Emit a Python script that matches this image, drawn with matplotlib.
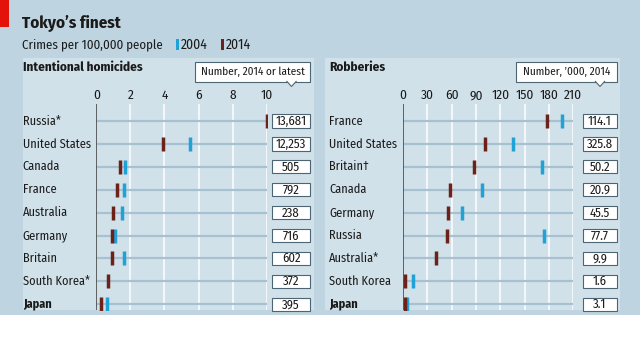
import numpy as np
import matplotlib
matplotlib.use("Agg")
import matplotlib.pyplot as plt
from matplotlib import font_manager
from matplotlib.patches import Rectangle, Polygon

# ---------------- data ----------------
hom_countries = ["Russia*", "United States", "Canada", "France", "Australia",
                 "Germany", "Britain", "South Korea*", "Japan"]
hom_2004 = [np.nan, 5.5, 1.7, 1.6, 1.5, 1.1, 1.6, np.nan, 0.6]
hom_2014 = [10.0, 3.9, 1.4, 1.2, 1.0, 0.9, 0.9, 0.7, 0.3]
hom_numbers = ["13,681", "12,253", "505", "792", "238", "716", "602", "372", "395"]
hom_ticks = [0, 2, 4, 6, 8, 10]

rob_countries = ["France", "United States", "Britain\u2020", "Canada", "Germany",
                 "Russia", "Australia*", "South Korea", "Japan"]
rob_2004 = [196, 136, 171, 97, 73, 174, np.nan, 12, 5]
rob_2014 = [178, 101, 87, 58, 56, 54, 41, 3, 2]
rob_numbers = ["114.1", "325.8", "50.2", "20.9", "45.5", "77.7", "9.9", "1.6", "3.1"]
rob_ticks = [0, 30, 60, 90, 120, 150, 180, 210]

# ---------------- style ----------------
names = {f.name for f in font_manager.fontManager.ttflist}
fams = []
for cand in ["Fira Sans Condensed", "Liberation Sans Narrow"]:
    if cand in names:
        fams.append(cand)
        break
fams.append("DejaVu Sans")
plt.rcParams["font.family"] = fams
plt.rcParams["font.stretch"] = "condensed"

W, H = 640, 356
OUTER = "#bfd4e1"
PANEL = "#d1e1ea"
ROWLINE = "#a6c1d0"
BLUE = "#1fa2d6"
BROWN = "#6d2219"
TXT = "#1a1a1a"
EDGE = "#4d6473"

fig = plt.figure(figsize=(W / 100, H / 100), dpi=100)
fig.patch.set_facecolor("white")
renderer = fig.canvas.get_renderer()


def fit_size(text, target_w, weight="normal"):
    t = fig.text(0, 0, text, fontsize=10, fontweight=weight)
    w = t.get_window_extent(renderer=renderer).width
    t.remove()
    return 10 * target_w / w


def F(x, y):
    return (x / W, 1 - y / H)


def frect(x0, y0, x1, y1, **kw):
    fig.add_artist(Rectangle(F(x0, y1), (x1 - x0) / W, (y1 - y0) / H,
                             transform=fig.transFigure, **kw))


S_TITLE = fit_size("Tokyo\u2019s finest", 99, "bold")
S_SUB = fit_size("Crimes per 100,000 people", 141)
S_LEG = fit_size("2004", 27)
S_PANEL = fit_size("Intentional homicides", 120, "bold")
S_LABEL = fit_size("United States", 68)
S_TICK = fit_size("210", 18)
S_BOX = fit_size("13,681", 31)
S_CALL = fit_size("Number, 2014 or latest", 104)

# outer band and panels
frect(0, 0, 640, 315, facecolor=OUTER, edgecolor="none", zorder=-10)
frect(0, 0, 9, 27, facecolor="#e3120b", edgecolor="none", zorder=-9)
frect(22.7, 58, 314, 310, facecolor=PANEL, edgecolor="none", zorder=-8)
frect(325, 58, 620, 310, facecolor=PANEL, edgecolor="none", zorder=-8)

# titles
fig.text(*F(22.5, 23), "Tokyo\u2019s finest", fontsize=S_TITLE, fontweight="bold",
         color=TXT, va="center", ha="left")
fig.text(*F(22.5, 44.5), "Crimes per 100,000 people", fontsize=S_SUB, color=TXT,
         va="center", ha="left")
frect(175.5, 39, 178.5, 50, facecolor=BLUE, edgecolor="none")
fig.text(*F(181, 44.5), "2004", fontsize=S_LEG, color=TXT, va="center", ha="left")
frect(220.5, 39, 223.5, 50, facecolor=BROWN, edgecolor="none")
fig.text(*F(226, 44.5), "2014", fontsize=S_LEG, color=TXT, va="center", ha="left")


def callout(x0, x1, tipx, text):
    y0, y1 = 61.7, 81.5
    frect(x0, y0, x1, y1, facecolor="white", edgecolor=EDGE, lw=0.8, zorder=5)
    pts = [F(tipx - 5, y1 - 0.5), F(tipx, y1 + 5), F(tipx + 5, y1 - 0.5)]
    fig.add_artist(Polygon(pts, closed=False, transform=fig.transFigure,
                           facecolor="white", edgecolor=EDGE, lw=0.8, zorder=6))
    fig.text(*F((x0 + x1) / 2, (y0 + y1) / 2 + 0.5), text, fontsize=S_CALL,
             color=TXT, ha="center", va="center", zorder=7)


def panel(x0px, x1px, xmax, countries, v04, v14, nums, ticks, title, titlex,
          box0, box1, labelx):
    top, bot = 104, 310
    row0, step = 121, 22.9
    ax = fig.add_axes([x0px / W, 1 - bot / H, (x1px - x0px) / W, (bot - top) / H])
    ax.set_facecolor("none")
    n = len(countries)
    ax.set_ylim((bot - row0) / step, (top - row0) / step)
    ax.set_xlim(0, xmax)
    for s in ax.spines.values():
        s.set_visible(False)
    ax.set_yticks([])
    ax.set_xticks(ticks)
    ax.set_xticklabels([str(t) for t in ticks])
    ax.tick_params(axis="x", top=False, bottom=False, labeltop=True,
                   labelbottom=False, length=0, pad=1.5, labelsize=S_TICK,
                   labelcolor=TXT)
    for t in ticks[1:]:
        ax.axvline(t, color="white", lw=1.1, zorder=0)
    ax.axvline(0, color="#4a4a4a", lw=1.2, zorder=3)
    ys = np.arange(n)
    for y in ys:
        ax.plot([0, xmax], [y, y], color=ROWLINE, lw=1.6, zorder=1,
                solid_capstyle="butt")
    ax.plot(v04, ys, ls="none", marker="|", ms=10, mew=2.5, color=BLUE, zorder=4)
    ax.plot(v14, ys, ls="none", marker="|", ms=10, mew=2.5, color=BROWN, zorder=4)

    tr = ax.get_yaxis_transform()
    fx = lambda px: (px - x0px) / (x1px - x0px)
    hbox = 13.3 / step
    for i, (c, nm) in enumerate(zip(countries, nums)):
        bold = c == "Japan"
        ax.text(fx(labelx), i, c, transform=tr, ha="left", va="center",
                fontsize=S_LABEL, color=TXT, fontweight="bold" if bold else "normal",
                clip_on=False)
        ax.add_patch(Rectangle((fx(box0), i - hbox / 2), fx(box1) - fx(box0), hbox,
                               transform=tr, facecolor="white",
                               edgecolor=EDGE, lw=0.8, clip_on=False, zorder=5))
        ax.text((fx(box0) + fx(box1)) / 2, i + 0.02, nm, transform=tr, ha="center",
                va="center", fontsize=S_BOX, color=TXT, clip_on=False, zorder=6)
    fig.text(*F(titlex, 67), title, fontsize=S_PANEL, fontweight="bold", color=TXT,
             ha="left", va="center")
    return ax


panel(96.3, 266.7, 10, hom_countries, hom_2004, hom_2014, hom_numbers, hom_ticks,
      "Intentional homicides", 22.7, 272.3, 310, 22.7)
panel(403, 573.3, 210, rob_countries, rob_2004, rob_2014, rob_numbers, rob_ticks,
      "Robberies", 329, 583.3, 616.7, 329)

callout(195, 310, 291.5, "Number, 2014 or latest")
callout(515.7, 616.7, 600, "Number, \u2019000, 2014")

fig.savefig("out.png", dpi=100, facecolor=fig.get_facecolor())
